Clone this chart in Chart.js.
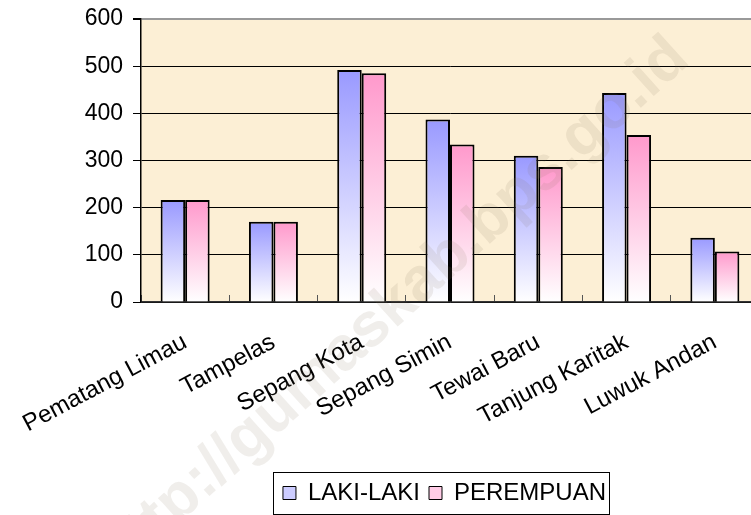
<!DOCTYPE html>
<html>
<head>
<meta charset="utf-8">
<script src="https://cdn.jsdelivr.net/npm/chart.js@4/dist/chart.umd.min.js"></script>
<style>
  html, body { margin: 0; padding: 0; background: #fff; overflow: hidden; }
  canvas { display: block; }
</style>
</head>
<body>
<canvas id="myChart" width="889" height="515"></canvas>
<script>
// data
let categories = ["Pematang Limau", "Tampelas", "Sepang Kota", "Sepang Simin", "Tewai Baru", "Tanjung Karitak", "Luwuk Andan"];
let lakiLaki = [216, 170, 492, 387, 310, 443, 136];
let perempuan = [216, 170, 485, 334, 286, 354, 107];
let seriesNames = ["LAKI-LAKI", "PEREMPUAN"];
let yTicks = [0, 100, 200, 300, 400, 500, 600];

const FONT = "Arial, 'Liberation Sans', sans-serif";

// each bar fades from its colour at the top to white at the axis
function barGradient(context, topColor) {
    let chart = context.chart;
    let area = chart.chartArea;
    if (!area || context.raw === undefined) return topColor;
    let yTop = chart.scales.y.getPixelForValue(context.raw);
    let g = chart.ctx.createLinearGradient(0, yTop, 0, area.bottom);
    g.addColorStop(0, topColor);
    g.addColorStop(1, "#ffffff");
    return g;
}

// no extra padding from the tick labels, the plot box is placed by hand
function noPadding(scale) {
    scale.paddingTop = 0;
    scale.paddingBottom = 0;
    scale.paddingLeft = 0;
    scale.paddingRight = 0;
}

const plotBackground = {
    id: "plotBackground",
    beforeDraw(chart) {
        let a = chart.chartArea;
        let ctx = chart.ctx;
        ctx.save();
        ctx.fillStyle = "#fcefd5";
        ctx.fillRect(a.left, a.top, a.right - a.left, a.bottom - a.top);
        ctx.restore();
    },
};

const legendFrame = {
    id: "legendFrame",
    afterDraw(chart) {
        let lg = chart.legend;
        if (!lg || !lg.legendHitBoxes.length) return;
        let boxes = lg.legendHitBoxes;
        let left = Math.min(...boxes.map((b) => b.left)) - 10;
        let right = Math.max(...boxes.map((b) => b.left + b.width)) + 3;
        let ctx = chart.ctx;
        ctx.save();
        ctx.strokeStyle = "#000";
        ctx.lineWidth = 1;
        ctx.strokeRect(Math.round(left) + 0.5, lg.top + 0.5, Math.round(right - left), lg.height - 1);
        ctx.restore();
    },
};

const watermark = {
    id: "watermark",
    afterDraw(chart) {
        let ctx = chart.ctx;
        ctx.save();
        ctx.translate(205, 500);
        ctx.rotate(-42 * Math.PI / 180);
        ctx.font = "bold 62px " + FONT;
        ctx.fillStyle = "rgba(130, 115, 90, 0.12)";
        ctx.textBaseline = "alphabetic";
        let prefix = "http";
        ctx.fillText("http://gumaskab.bps.go.id", -ctx.measureText(prefix).width, 0);
        ctx.restore();
    },
};

const data = {
    labels: categories,
    datasets: [
        {
            label: seriesNames[0],
            data: lakiLaki,
            backgroundColor: (c) => barGradient(c, "#9999ff"),
            borderColor: "#000",
            borderWidth: 2,
        },
        {
            label: seriesNames[1],
            data: perempuan,
            backgroundColor: (c) => barGradient(c, "#ff99cc"),
            borderColor: "#000",
            borderWidth: 2,
        },
    ],
};

const legendFills = ["#ccccff", "#ffcce6"];

const config = {
    type: "bar",
    data,
    options: {
        responsive: false,
        animation: false,
        devicePixelRatio: 1,
        categoryPercentage: 0.555,
        barPercentage: 1,
        layout: { padding: { top: 19, left: 0, right: 0, bottom: 0 } },
        plugins: {
            tooltip: { enabled: false },
            legend: {
                position: "bottom",
                labels: {
                    color: "#000",
                    font: { family: FONT, size: 24 },
                    boxWidth: 13,
                    boxHeight: 13,
                    padding: 9,
                    generateLabels: (chart) =>
                        chart.data.datasets.map((ds, i) => ({
                            text: ds.label,
                            fillStyle: legendFills[i],
                            strokeStyle: "#000",
                            lineWidth: 1,
                            fontColor: "#000",
                            datasetIndex: i,
                        })),
                },
            },
        },
        scales: {
            x: {
                offset: true,
                grid: {
                    display: true,
                    drawOnChartArea: false,
                    drawTicks: true,
                    tickLength: -7,
                    color: "#555",
                },
                border: { display: true, color: "#333", width: 1.5 },
                ticks: {
                    color: "#000",
                    font: { family: FONT, size: 24 },
                    minRotation: 28,
                    maxRotation: 28,
                    autoSkip: false,
                    padding: 33,
                },
                afterFit: (scale) => {
                    let lgH = scale.chart.legend ? scale.chart.legend.height : 43;
                    scale.height = 515 - 19 - 283 - lgH;
                    noPadding(scale);
                },
            },
            y: {
                min: 0,
                max: 600,
                afterBuildTicks: (scale) => {
                    scale.ticks = yTicks.map((v) => ({ value: v }));
                },
                grid: {
                    color: (c) => (c.tick && c.tick.value === 600 ? "#999" : "#000"),
                    lineWidth: (c) => (c.tick && c.tick.value === 600 ? 2 : 1),
                    tickColor: "#000",
                    tickLength: 8,
                },
                border: { display: true, color: "#000", width: 1.5 },
                ticks: {
                    color: "#000",
                    font: { family: FONT, size: 23 },
                    padding: 10,
                },
                afterFit: (scale) => {
                    scale.width = 141;
                    noPadding(scale);
                },
            },
            yRight: {
                position: "right",
                display: true,
                grid: { display: false, drawTicks: false },
                border: { display: false },
                ticks: { display: false },
                afterFit: (scale) => {
                    scale.width = 889 - 759;
                    noPadding(scale);
                },
            },
        },
    },
    plugins: [plotBackground, legendFrame, watermark],
};

var myChart = new Chart(document.getElementById("myChart"), config);
</script>
</body>
</html>
